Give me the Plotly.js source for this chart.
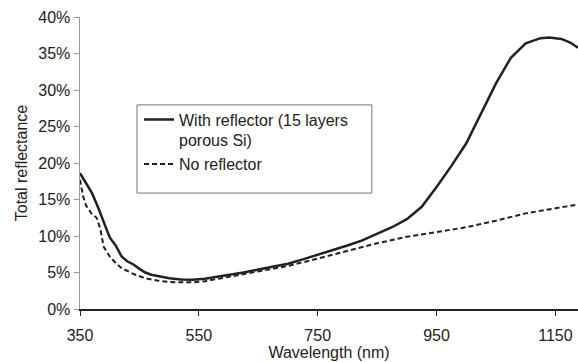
<!DOCTYPE html>
<html><head><meta charset="utf-8">
<script src="https://cdn.plot.ly/plotly-3.0.1.min.js"></script>
<style>html,body{margin:0;padding:0;background:#fff}#chart{width:578px;height:362px}</style>
</head><body><div id="chart"></div>
<script>
const wlReflector = [350,360,370,380,390,400,410,420,430,440,450,460,470,480,500,520,540,560,580,600,625,650,675,700,725,750,775,800,825,850,875,900,925,950,975,1000,1025,1050,1075,1100,1125,1140,1160,1175,1188];
const rReflector = [18.6,17.3,15.9,14.0,11.8,9.8,8.7,7.2,6.5,6.1,5.5,5.0,4.7,4.5,4.2,4.05,4.0,4.15,4.4,4.7,5.0,5.4,5.8,6.2,6.8,7.4,8.0,8.7,9.4,10.3,11.2,12.3,14.0,16.7,19.6,22.7,26.7,30.9,34.4,36.4,37.1,37.2,37.0,36.5,35.8];
const wlNone = [350,355,360,370,378,384,390,400,410,420,440,460,480,500,520,540,560,580,600,650,700,750,800,850,900,950,1000,1050,1100,1150,1188];
const rNone = [17.7,15.5,14.2,13.0,12.5,11.0,8.5,7.2,6.3,5.6,4.8,4.2,3.9,3.7,3.65,3.65,3.8,4.1,4.4,5.1,5.9,6.9,8.0,9.0,9.9,10.5,11.2,12.1,13.1,13.8,14.3];
const xTicks = [350,550,750,950,1150];
const yTicks = [0,0.05,0.10,0.15,0.20,0.25,0.30,0.35,0.40];
const nameReflector = 'With reflector (15 layers<br>porous Si)';
const nameNone = 'No reflector';

const font = {family:'Liberation Sans, Arial, sans-serif', size:16, color:'#222'};
const traces = [
  {x: wlReflector, y: rReflector.map(v=>v/100), name: nameReflector, mode:'lines',
   line:{color:'#222', width:2.5}},
  {x: wlNone, y: rNone.map(v=>v/100), name: nameNone, mode:'lines',
   line:{color:'#222', width:2, dash:'5px,3px'}}
];
const layout = {
  width:578, height:362,
  margin:{l:80, r:0, t:17, b:53},
  paper_bgcolor:'#fff', plot_bgcolor:'#fff',
  font: font,
  showlegend:true,
  legend:{x:0.1185, y:0.707, xanchor:'left', yanchor:'top', bgcolor:'rgba(0,0,0,0)', borderwidth:0,
          font:font, valign:'top', tracegroupgap:2, itemwidth:30},
  xaxis:{range:[350,1188], tickvals:xTicks, ticktext:xTicks.map(String), ticks:'outside', ticklen:5,
         ticklabelstandoff:6,
         tickcolor:'#222', showline:true, linecolor:'#222', linewidth:1.5, showgrid:false, zeroline:false,
         title:{text:'Wavelength (nm)', font:font, standoff:2}, tickfont:font},
  yaxis:{range:[0,0.40], tickvals:yTicks, ticktext:yTicks.map(v=>Math.round(v*100)+'%'), ticks:'outside', ticklen:5,
         tickcolor:'#999', showline:true, linecolor:'#999', linewidth:1.5, showgrid:false, zeroline:false,
         title:{text:'Total reflectance', font:font, standoff:6}, tickfont:font},
  shapes:[{type:'rect', xref:'paper', yref:'paper', x0:0.1145, x1:0.586, y0:0.397, y1:0.699,
           line:{color:'#777', width:1}, fillcolor:'rgba(0,0,0,0)', layer:'above'}]
};
Plotly.newPlot('chart', traces, layout, {displayModeBar:false, staticPlot:true});
</script></body></html>
